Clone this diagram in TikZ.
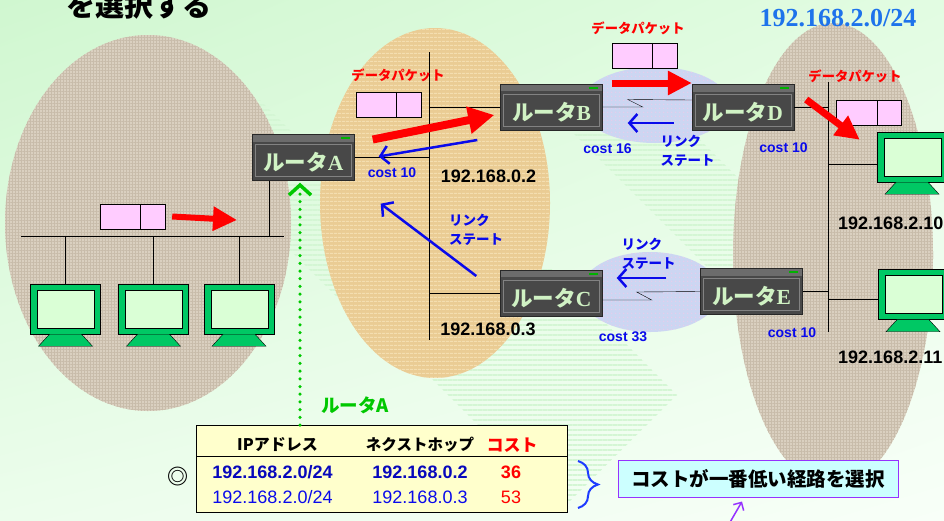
\documentclass[tikz,border=0pt]{standalone}
\usepackage{fontspec}
\setmainfont{Liberation Serif}
\newfontfamily\jp{Noto Sans CJK JP}
\newfontfamily\arial{Liberation Sans}
\usetikzlibrary{arrows.meta,patterns.meta,decorations.pathreplacing,shadings}

\definecolor{linen}{RGB}{218,208,192}
\definecolor{linentrama}{RGB}{200,188,170}
\definecolor{papiro}{RGB}{234,204,148}
\definecolor{papirotrama}{RGB}{244,222,176}
\definecolor{cielo}{RGB}{204,214,242}
\definecolor{cielopunti}{RGB}{228,206,236}
\definecolor{menta}{RGB}{212,246,212}
\definecolor{bgA}{RGB}{208,247,208}
\definecolor{bgB}{RGB}{226,252,226}
\definecolor{bgC}{RGB}{236,253,236}
\definecolor{bgD}{RGB}{248,255,248}
\definecolor{rtbody}{RGB}{40,40,40}
\definecolor{rtface}{RGB}{72,72,72}
\definecolor{rtstrip}{RGB}{108,108,108}
\definecolor{rtedge}{RGB}{130,130,130}
\definecolor{rtlabel}{RGB}{208,242,196}
\definecolor{pcgreen}{RGB}{0,200,100}
\definecolor{pcscreen}{RGB}{218,255,214}
\definecolor{pkpink}{RGB}{255,204,255}
\definecolor{lsblue}{RGB}{10,10,235}
\definecolor{netblue}{RGB}{30,115,235}
\definecolor{verde}{RGB}{0,200,0}
\definecolor{tabyellow}{RGB}{255,255,204}
\definecolor{notecyan}{RGB}{204,255,255}
\definecolor{viola}{RGB}{150,50,255}
\definecolor{graffablu}{RGB}{30,60,255}

\newcommand{\fsz}[1]{\fontsize{#1}{#1}\selectfont}

\begin{document}
\begin{tikzpicture}[x=1pt,y=-1pt,
	band/.style = {pattern={Lines[angle=0,distance=5pt,line width=2.2pt]},pattern color=menta},
	linenfill/.style = {fill=linen,postaction={pattern={Hatch[angle=0,distance=3pt,line width=.5pt]},pattern color=linentrama}},
	papirofill/.style = {fill=papiro,postaction={pattern={Lines[angle=0,distance=4pt,line width=1pt]},pattern color=papirotrama}},
	cielofill/.style = {fill=cielo,postaction={pattern={Dots[distance=4pt,radius=1pt]},pattern color=cielopunti}},
	router/.style = {draw=rtbody,fill=rtface,minimum width=102pt,minimum height=46pt,inner sep=0pt,
		text=rtlabel,font=\fsz{21.5},text height=26pt,text depth=0pt,
		path picture={
			\fill[rtstrip] (path picture bounding box.north west) rectangle ([yshift=-7pt]path picture bounding box.north east);
			\draw[rtedge] ([shift={(3pt,-10pt)}]path picture bounding box.north west) rectangle ([shift={(-3pt,4pt)}]path picture bounding box.south east);
			\fill[green!70!black] ([shift={(-14pt,-2.5pt)}]path picture bounding box.north east) rectangle ([shift={(-5pt,-4.5pt)}]path picture bounding box.north east);}},
	pc/.style = {draw,fill=pcgreen,minimum width=70pt,minimum height=50pt,inner sep=0pt,
		path picture={\draw[fill=pcscreen] ([shift={(7pt,-6pt)}]path picture bounding box.north west) rectangle ([shift={(-6pt,6pt)}]path picture bounding box.south east);}},
	pacchetto/.style = {draw,fill=pkpink,minimum width=65pt,minimum height=25pt,inner sep=0pt},
	dati/.style = {draw=red,line width=7pt,-{Triangle[length=24pt,width=23pt]}},
	lsa/.style = {draw=lsblue,line width=2.5pt,-{Straight Barb[length=8pt,width=18pt]}},
	pkt/.style = {text=red,font=\jp\bfseries\fsz{13.3}},
	costo/.style = {text=lsblue,font=\arial\bfseries\fsz{14}},
	stato/.style = {text=lsblue,font=\jp\bfseries\fontsize{13.5}{19}\selectfont,align=left},
	ip/.style = {font=\arial\bfseries\fsz{18}},
	punti/.style = {draw=verde,line width=3.5pt,line cap=round,dash pattern=on 0pt off 7.7pt,-{Straight Barb[length=10pt,width=22pt]}},
	graffa/.style = {draw=graffablu,line width=2pt,decorate,decoration={brace,amplitude=20pt}},
	nota/.style = {draw=viola,fill=notecyan,line width=1pt,minimum width=280pt,minimum height=37pt,font=\jp\bfseries\fsz{19.5}}
	]
	%\draw [help lines,step=50] (0,0) grid (944,520);
	\useasboundingbox (0,0) rectangle (944,520);
	\clip (0,0) rectangle (944,520);
	%SFONDO
	\shade[upper left=bgA,upper right=bgB,lower left=bgC,lower right=bgD] (0,0) rectangle (944,520);
	\fill[band] (320,267) -- (550,267) -- (677,395) -- (562,509) -- cycle;
	\fill[band] (140,100) -- (260,100) -- (460,300) -- (340,300) -- cycle;
	\fill[band] (540,100) -- (660,100) -- (830,270) -- (710,270) -- cycle;
	%RETI
	\path[linenfill] (148,223) ellipse [x radius=143,y radius=188];
	\path[papirofill] (435,203) ellipse [x radius=115,y radius=175];
	\path[linenfill] (833,255) ellipse [x radius=100,y radius=232];
	\path[cielofill] (655,105) ellipse [x radius=75,y radius=38];
	\path[cielofill] (650,292) ellipse [x radius=70,y radius=40];
	%Bus
	\coordinate (lbL) at (21,236);
	\coordinate (lbR) at (284,236);
	\coordinate (mbT) at (429,52);
	\coordinate (mbB) at (429,340);
	\coordinate (rbT) at (828,82);
	\coordinate (rbB) at (828,332);
	\draw (lbL) -- (lbR);
	\draw (mbT) -- (mbB);
	\draw (rbT) -- (rbB);
	%ROUTER
	\node[router] (rA) at (303.5,157.5) {{\jp\bfseries ルータ}\textbf{A}};
	\node[router] (rB) at (551.5,107) {{\jp\bfseries ルータ}\textbf{B}};
	\node[router] (rC) at (551.5,293) {{\jp\bfseries ルータ}\textbf{C}};
	\node[router] (rD) at (743,107.5) {{\jp\bfseries ルータ}\textbf{D}};
	\node[router] (rE) at (751.5,291.5) {{\jp\bfseries ルータ}\textbf{E}};
	%PC
	\foreach \p/\x/\y in {pcL1/65.5/309,pcL2/153.5/309,pcL3/239/309,pcR1/912/157,pcR2/913/294.5}{
		\node[pc] (\p) at (\x,\y) {};
		\draw[fill=pcgreen] ([xshift=-16pt]\p.south) -- ([xshift=16pt]\p.south) -- ([shift={(27pt,-12pt)}]\p.south) -- ([shift={(-27pt,-12pt)}]\p.south) -- cycle;
	}
	%Collegamenti
	\foreach \p in {pcL1,pcL2,pcL3}
		\draw (\p.north) -- (\p.north |- lbL);
	\coordinate (aDrop) at ([xshift=-34.5pt]rA.south);
	\draw (aDrop) -- (aDrop |- lbL);
	\draw (rA.east) -- (rA.east -| mbT);
	\draw (rB.west) -- (rB.west -| mbT);
	\draw (rC.west) -- (rC.west -| mbT);
	\draw (rD.east) -- (rD.east -| rbT);
	\draw (rE.east) -- (rE.east -| rbT);
	\coordinate (p1c) at ([yshift=-7pt]pcR1.west);
	\coordinate (p2c) at ([yshift=-4.5pt]pcR2.west);
	\draw (p1c) -- (p1c -| rbT);
	\draw (p2c) -- (p2c -| rbT);
	\draw (rB.east) -- ++(40,0) -- ++(-15,-7.5) -- ([yshift=7.5pt]rD.west);
	\draw ([yshift=-7pt]rC.east) -- ++(49,0) -- ++(-15,-8) -- (rE.west);
	%Pacchetti
	\node[pacchetto] (pkL) at (132.5,216.5) {};
	\node[pacchetto] (pkM) at (388.5,104.5) {};
	\node[pacchetto] (pkT) at (644.5,55.5) {};
	\node[pacchetto] (pkR) at (869,112.5) {};
	\foreach \p in {pkL,pkM,pkT,pkR}
		\draw ([xshift=-25pt]\p.north east) -- ([xshift=-25pt]\p.south east);
	\node[pkt] (lpM) at (398,75) {データパケット};
	\node[pkt] (lpT) at (638,28) {データパケット};
	\node[pkt] (lpR) at (855,76) {データパケット};
	%Frecce dati
	\coordinate (aIn) at (237,220);
	\draw[dati,line width=6pt] ([xshift=7pt]pkL.east) -- (aIn);
	\draw[dati,line width=8pt,-{Triangle[length=26pt,width=26pt]}] ([shift={(18pt,18pt)}]rA.east) -- ([shift={(-6pt,-8pt)}]rB.west);
	\draw[dati] ([shift={(9pt,24pt)}]rB.east) -- ([yshift=24.5pt]rD.west);
	\draw[dati] ([shift={(12pt,8pt)}]rD.east) -- ([shift={(-17pt,-8pt)}]pcR1.north west);
	%Link state
	\draw[lsa] ([shift={(-23pt,-33pt)}]rB.west) -- ([shift={(24pt,1pt)}]rA.east);
	\draw[lsa] ([shift={(-24pt,17pt)}]rC.west) -- ([shift={(26pt,-23pt)}]rA.south east);
	\draw[lsa] ([shift={(-18pt,-15.5pt)}]rD.west) -- ([shift={(25pt,-16pt)}]rB.east);
	\draw[lsa] ([shift={(-34pt,13.5pt)}]rE.west) -- ([shift={(14pt,15pt)}]rC.east);
	\node[stato] (lsM) at (476,230) {リンク\\ステート};
	\node[stato] (lsBD) at (687.5,151) {リンク\\ステート};
	\node[stato] (lsCE) at (648.5,253.5) {リンク\\ステート};
	\node[costo] (cA) at (392,172.5) {cost 10};
	\node[costo] (cB) at (607.5,149) {cost 16};
	\node[costo] (cD) at (783.5,148) {cost 10};
	\node[costo] (cC) at (623,336.5) {cost 33};
	\node[costo] (cE) at (792,333) {cost 10};
	%Indirizzi
	\node[ip] (ipB) at (488.5,176) {192.168.0.2};
	\node[ip] (ipC) at (488,329) {192.168.0.3};
	\node[ip,anchor=west,inner sep=0pt] (ip10) at (838,223) {192.168.2.10};
	\node[ip,anchor=west,inner sep=0pt] (ip11) at (838,357.5) {192.168.2.11};
	\node[font=\bfseries\fsz{26},text=netblue] (net) at (838,18) {192.168.2.0/24};
	\node[font=\jp\bfseries\fsz{29},anchor=base west,inner sep=0pt] (tit) at (66,16) {を選択する};
	%Tabella di instradamento
	\node[draw,fill=tabyellow,line width=1.2pt,minimum width=371pt,minimum height=87pt,anchor=north west] (tbl) at (196,425) {};
	\coordinate (hd) at (0,456);
	\draw[line width=1pt] (tbl.west |- hd) -- (tbl.east |- hd);
	\coordinate (gA) at ([xshift=-3.5pt]rA.south);
	\draw[punti] (gA |- tbl.north) -- ([yshift=-2pt]gA);
	\node[font=\jp\bfseries\fsz{18.5},text=verde] (tA) at (355,405) {ルータA};
	\node[font=\jp\bfseries\fsz{16}] (h1) at (277.5,445) {IPアドレス};
	\node[font=\jp\bfseries\fsz{15.5}] (h2) at (420,445) {ネクストホップ};
	\node[font=\jp\bfseries\fsz{17},text=red] (h3) at (512,445) {コスト};
	\node[ip,text=lsblue!80!black] (r1a) at (272.5,472) {192.168.2.0/24};
	\node[ip,text=lsblue!80!black] (r1b) at (420,472) {192.168.0.2};
	\node[ip,text=red] (r1c) at (511,472) {36};
	\node[ip,font=\arial\fsz{18},text=lsblue] (r2a) at (272.5,497) {192.168.2.0/24};
	\node[ip,font=\arial\fsz{18},text=lsblue] (r2b) at (420,497) {192.168.0.3};
	\node[ip,font=\arial\fsz{18},text=red] (r2c) at (511,497) {53};
	\node[font=\jp\bfseries\fsz{21}] (sel) at (177.5,477) {◎};
	%Scelta
	\draw[graffa] (578,461) -- (578,508);
	\node[nota] (nt) at (758,478.5) {コストが一番低い経路を選択};
	\coordinate (vp) at (729,524);
	\draw[viola,line width=1.5pt,-{Straight Barb[length=6pt,width=12pt]}] (vp) -- ([shift={(-16pt,-4pt)}]nt.south);
\end{tikzpicture}
\end{document}
